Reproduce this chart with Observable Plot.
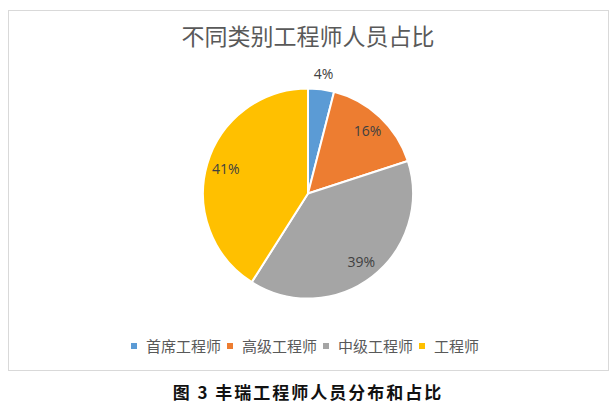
<!DOCTYPE html>
<html>
<head>
<meta charset="utf-8">
<script src="https://cdn.jsdelivr.net/npm/d3@7"></script>
<script src="https://cdn.jsdelivr.net/npm/@observablehq/plot@0.6"></script>
<style>
  html, body { margin: 0; padding: 0; background: #fff; }
  #page { position: relative; width: 616px; height: 404px; overflow: hidden; font-family: "Noto Sans CJK SC", sans-serif; }
  #box { position: absolute; left: 8px; top: 10px; width: 599px; height: 359px; border: 1px solid #d9d9d9; }
  #title { position: absolute; left: 0; top: 24px; width: 616px; text-align: center; font-size: 23px; line-height: 23px; color: #595959; }
  #chart { position: absolute; left: 0; top: 0; }
  #legend { position: absolute; left: 0; top: 335px; width: 616px; }
  #legend > div { justify-content: center !important; min-height: 20px !important; font-size: 15px !important; color: #595959 !important; font-family: "Noto Sans CJK SC", sans-serif !important; }
  #legend [class$="-swatch"] { margin-right: 6px !important; }
  #legend svg { margin-right: 9px !important; }
  #caption { position: absolute; left: 0; top: 383px; width: 616px; text-align: center; font-size: 17px; line-height: 17px; font-weight: bold; letter-spacing: 2px; color: #111; }
</style>
</head>
<body>
<div id="page">
  <div id="box"></div>
  <div id="title"></div>
  <div id="chart"></div>
  <div id="legend"></div>
  <div id="caption"></div>
</div>
<script>
// ---- data ----
const titleText = "不同类别工程师人员占比";
const captionText = "图 3 丰瑞工程师人员分布和占比";
const categories = ["首席工程师", "高级工程师", "中级工程师", "工程师"];
const shares = [4, 16, 39, 41];
const labels = ["4%", "16%", "39%", "41%"];
const colors = ["#5B9BD5", "#ED7D31", "#A5A5A5", "#FFC000"];

document.getElementById("title").textContent = titleText;
document.getElementById("caption").textContent = captionText;

const rows = categories.map((name, i) => ({name, value: shares[i], label: labels[i]}));
const arcs = d3.pie().sort(null).value(d => d.value)(rows);

const colorScale = Plot.scale({color: {type: "ordinal", domain: categories, range: colors}});

// label positions derived from slice angles (unit radius space)
const labelData = arcs.map(a => {
  const mid = (a.startAngle + a.endAngle) / 2;
  const r = a.data.value < 5 ? 1.15 : 0.82;
  return {x: r * Math.sin(mid), y: r * Math.cos(mid), text: a.data.label};
});

const pieMark = (index, scales) => {
  const cx = scales.x(0), cy = scales.y(0);
  const R = scales.x(1) - cx;
  const g = d3.create("svg:g").attr("transform", `translate(${cx},${cy})`);
  const arc = d3.arc().innerRadius(0).outerRadius(R);
  g.selectAll("path")
    .data(arcs)
    .join("path")
    .attr("d", arc)
    .attr("fill", d => colorScale.apply(d.data.name))
    .attr("stroke", "#fff")
    .attr("stroke-width", 2)
    .attr("stroke-linejoin", "round");
  return g.node();
};

const chart = Plot.plot({
  width: 616,
  height: 404,
  marginLeft: 203,
  marginRight: 203,
  marginTop: 88.5,
  marginBottom: 105.5,
  x: {domain: [-1, 1], axis: null},
  y: {domain: [-1, 1], axis: null},
  style: {background: "transparent", overflow: "visible"},
  marks: [
    pieMark,
    Plot.text(labelData, {
      x: "x", y: "y", text: "text",
      fontSize: 14, fill: "#404040",
      fontFamily: "Open Sans, sans-serif"
    })
  ]
});
document.getElementById("chart").appendChild(chart);

const legend = Plot.legend({
  color: {type: "ordinal", domain: categories, range: colors},
  swatchSize: 6,
  style: {fontSize: "15px", color: "#595959"}
});
document.getElementById("legend").appendChild(legend);
</script>
</body>
</html>
